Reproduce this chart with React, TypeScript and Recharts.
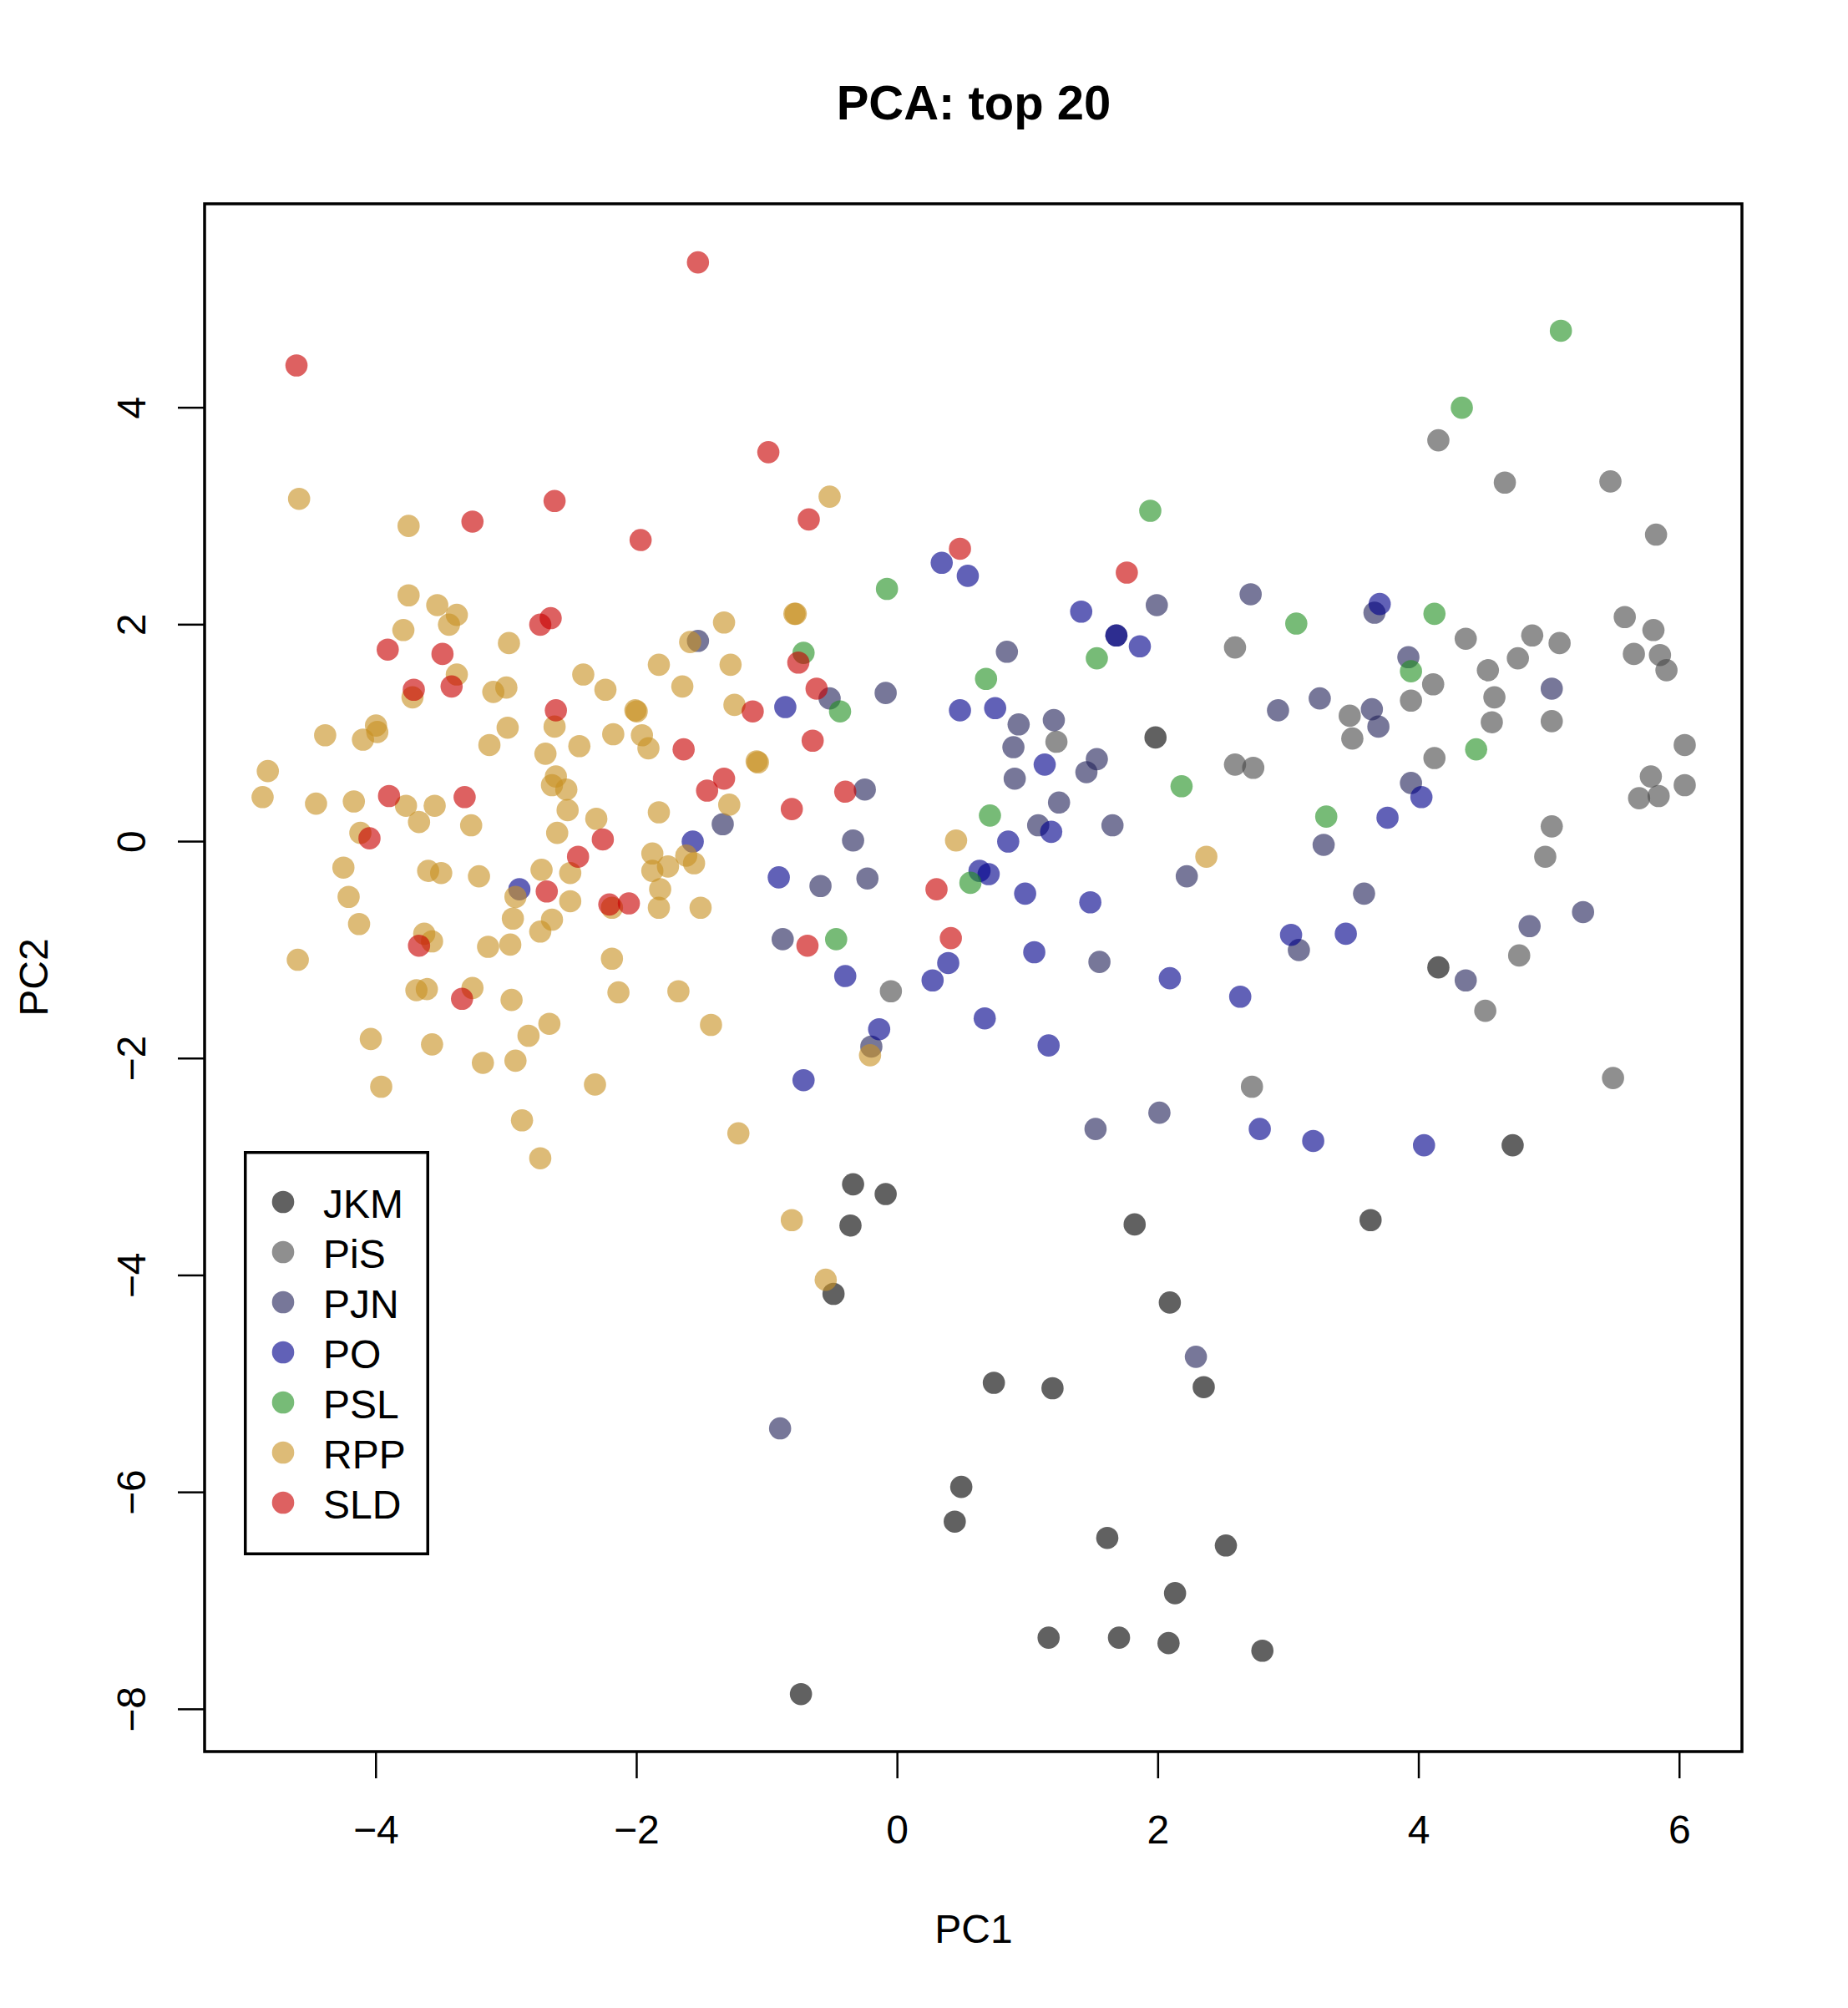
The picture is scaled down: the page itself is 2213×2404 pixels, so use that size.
import { ScatterChart, Scatter, XAxis, YAxis, ReferenceArea, Legend } from 'recharts';

const FONT = '"Liberation Sans", Arial, Helvetica, sans-serif';

const PARTIES = ['JKM', 'PiS', 'PJN', 'PO', 'PSL', 'RPP', 'SLD'];
// base colours, drawn with alpha like R's semi-transparent points
const PARTY_COLORS = ['#000000', '#4a4a4a', '#23235a', '#00008b', '#239123', '#c89123', '#c80000'];
const POINT_ALPHA = 0.62;

const X_TICKS = [-4, -2, 0, 2, 4, 6];
const Y_TICKS = [-8, -6, -4, -2, 0, 2, 4];
const X_DOMAIN: [number, number] = [-5.315, 6.479];
const Y_DOMAIN: [number, number] = [-8.39, 5.88];

// [PC1, PC2] per party
const JKM: [number, number][] = [
  [1.98, 0.96], [4.15, -1.16], [4.72, -2.8], [-0.34, -3.16], [-0.09, -3.25], [-0.36, -3.54],
  [1.82, -3.53], [3.63, -3.49], [-0.49, -4.17], [2.09, -4.25], [2.35, -5.03], [0.74, -4.99],
  [1.19, -5.04], [0.49, -5.95], [0.44, -6.27], [1.61, -6.42], [2.52, -6.49], [2.13, -6.93],
  [1.16, -7.34], [1.7, -7.34], [2.08, -7.39], [2.8, -7.46], [-0.74, -7.86],
];

const PIS: [number, number][] = [
  [4.15, 3.7], [4.66, 3.31], [5.47, 3.32], [5.82, 2.83], [2.59, 1.79], [4.36, 1.87], [4.87, 1.9],
  [5.08, 1.83], [5.58, 2.07], [5.8, 1.95], [5.65, 1.73], [5.85, 1.72], [5.9, 1.58], [4.76, 1.69],
  [4.53, 1.58], [4.11, 1.45], [3.94, 1.3], [4.58, 1.33], [3.47, 1.16], [3.49, 0.95], [5.02, 1.11],
  [4.56, 1.1], [6.04, 0.89], [2.59, 0.71], [2.73, 0.68], [4.12, 0.77], [5.78, 0.6], [6.04, 0.52],
  [5.69, 0.4], [5.84, 0.42], [5.02, 0.14], [4.97, -0.14], [4.77, -1.05], [4.51, -1.56],
  [5.49, -2.18], [2.72, -2.26], [1.22, 0.92], [-0.05, -1.38],
];

const PJN: [number, number][] = [
  [-1.53, 1.85], [-0.52, 1.32], [-0.09, 1.37], [0.84, 1.75], [1.99, 2.18], [0.93, 1.08],
  [1.2, 1.12], [0.89, 0.87], [1.53, 0.76], [1.45, 0.64], [0.9, 0.58], [1.24, 0.36], [1.08, 0.15],
  [1.65, 0.15], [-1.34, 0.16], [-0.25, 0.48], [-0.34, 0.01], [2.22, -0.32], [-0.59, -0.41],
  [-0.23, -0.34], [-0.88, -0.9], [1.55, -1.11], [-0.2, -1.89], [2.01, -2.5], [1.52, -2.65],
  [2.29, -4.75], [-0.9, -5.41], [2.71, 2.28], [3.66, 2.11], [3.92, 1.7], [5.02, 1.41],
  [3.24, 1.32], [2.92, 1.21], [3.64, 1.22], [3.69, 1.06], [3.94, 0.54], [3.27, -0.03],
  [3.58, -0.48], [5.26, -0.65], [4.85, -0.78], [3.08, -1.0], [4.36, -1.28], [1.68, 1.9],
];

const PO: [number, number][] = [
  [0.34, 2.57], [0.54, 2.45], [1.41, 2.12], [1.86, 1.8], [3.7, 2.19], [-0.86, 1.24], [0.48, 1.21],
  [0.75, 1.23], [1.13, 0.71], [1.18, 0.09], [0.85, 0.0], [-1.57, 0.0], [-2.9, -0.44],
  [-0.91, -0.33], [0.63, -0.27], [0.7, -0.3], [0.98, -0.48], [1.48, -0.56], [0.39, -1.12],
  [0.27, -1.28], [-0.4, -1.24], [1.05, -1.02], [2.09, -1.26], [2.63, -1.43], [-0.14, -1.73],
  [0.67, -1.63], [1.16, -1.88], [-0.72, -2.2], [4.02, 0.41], [3.76, 0.22], [3.02, -0.86],
  [3.44, -0.85], [2.78, -2.65], [3.19, -2.76], [4.04, -2.8], [1.68, 1.9],
];

const PSL: [number, number][] = [
  [5.09, 4.71], [4.33, 4.0], [1.94, 3.05], [-0.08, 2.33], [3.06, 2.01], [4.12, 2.1], [1.53, 1.69],
  [0.68, 1.5], [-0.72, 1.74], [-0.44, 1.2], [3.94, 1.57], [4.44, 0.85], [2.18, 0.51], [0.71, 0.24],
  [3.29, 0.23], [0.56, -0.38], [-0.47, -0.9],
];

const RPP: [number, number][] = [
  [-4.59, 3.16], [-3.75, 2.91], [-3.75, 2.27], [-3.53, 2.18], [-3.38, 2.09], [-3.44, 2.0],
  [-3.79, 1.95], [-2.98, 1.83], [-3.38, 1.54], [-3.72, 1.33], [-3.1, 1.38], [-3.0, 1.42],
  [-2.41, 1.54], [-2.24, 1.4], [-1.83, 1.63], [-1.65, 1.43], [-1.59, 1.84], [-1.33, 2.02],
  [-2.01, 1.21], [-2.0, 1.2], [-1.28, 1.63], [-1.25, 1.26], [-0.52, 3.18], [-0.78, 2.1],
  [-0.79, 2.1],
  [-4.39, 0.98], [-4.0, 1.07], [-4.1, 0.94], [-3.99, 1.01], [-2.99, 1.05], [-2.63, 1.06],
  [-3.13, 0.89], [-2.7, 0.81], [-2.44, 0.88], [-2.18, 0.99], [-1.96, 0.98], [-1.91, 0.86],
  [-4.83, 0.65], [-4.87, 0.41], [-4.46, 0.35], [-4.17, 0.37], [-3.77, 0.33], [-3.55, 0.33],
  [-3.67, 0.18], [-3.27, 0.15], [-2.62, 0.6], [-2.65, 0.52], [-2.54, 0.48], [-2.53, 0.29],
  [-2.61, 0.08], [-2.31, 0.21], [-1.83, 0.27], [-1.62, -0.13], [-1.56, -0.2], [-1.88, -0.11],
  [-1.76, -0.23], [-1.88, -0.27], [-1.82, -0.44], [-1.83, -0.61], [-1.51, -0.61], [-2.51, -0.29],
  [-2.51, -0.55], [-2.73, -0.26], [-2.93, -0.51], [-2.95, -0.71], [-2.65, -0.72], [-2.74, -0.83],
  [-2.19, -0.61], [-4.25, -0.24], [-4.21, -0.51], [-4.13, -0.76], [-4.12, 0.08], [-3.6, -0.27],
  [-3.5, -0.29], [-3.21, -0.32], [-3.63, -0.85], [-3.57, -0.92], [-3.14, -0.97], [-2.97, -0.95],
  [-4.6, -1.09], [-2.19, -1.08], [-2.14, -1.39], [-1.68, -1.38], [-1.43, -1.69], [-3.69, -1.37],
  [-3.61, -1.36], [-3.26, -1.35], [-2.96, -1.46], [-4.04, -1.82], [-3.57, -1.87], [-2.67, -1.68],
  [-2.83, -1.79], [-3.18, -2.04], [-2.93, -2.02], [-3.96, -2.26], [-2.32, -2.24], [-2.88, -2.57],
  [-2.74, -2.92],
  [-1.29, 0.34], [-1.08, 0.74], [-1.07, 0.73], [0.45, 0.01], [2.37, -0.14], [-0.21, -1.97],
  [-1.22, -2.69], [-0.81, -3.49], [-0.55, -4.04],
];

const SLD: [number, number][] = [
  [-1.53, 5.34], [-4.61, 4.39], [-0.99, 3.59], [-2.63, 3.14], [-3.26, 2.95], [-0.68, 2.97],
  [-1.97, 2.78], [0.48, 2.7], [1.76, 2.48], [-2.66, 2.06], [-2.74, 2.0], [-3.91, 1.77],
  [-3.49, 1.73], [-0.76, 1.65], [-3.71, 1.4], [-3.42, 1.43], [-0.62, 1.41], [-2.62, 1.21],
  [-1.11, 1.2], [-0.65, 0.93], [-1.64, 0.85], [-1.33, 0.58], [-1.46, 0.47], [-0.4, 0.46],
  [-0.81, 0.3], [-3.9, 0.42], [-3.32, 0.41], [-4.05, 0.03], [-2.26, 0.02], [-2.45, -0.14],
  [-2.69, -0.46], [-2.21, -0.58], [-2.06, -0.57], [0.3, -0.44], [0.41, -0.89], [-0.69, -0.96],
  [-3.67, -0.96], [-3.34, -1.45],
];

const SCORES = [JKM, PIS, PJN, PO, PSL, RPP, SLD];

const series = PARTIES.map((name, i) => ({
  name,
  color: PARTY_COLORS[i],
  points: SCORES[i].map(([x, y]) => ({ x, y })),
}));

const fmt = (v: number) => (v < 0 ? `\u2212${Math.abs(v)}` : `${v}`);

const XTick = ({ x, y, payload }: any) => (
  <text x={x} y={y + 78} textAnchor="middle" fontSize={48} fontFamily={FONT} fill="#000">
    {fmt(payload.value)}
  </text>
);

const YTick = ({ x, y, payload }: any) => (
  <text
    x={x - 39}
    y={y}
    transform={`rotate(-90, ${x - 39}, ${y})`}
    textAnchor="middle"
    fontSize={48}
    fontFamily={FONT}
    fill="#000"
  >
    {fmt(payload.value)}
  </text>
);

const Dot = (color: string) => (props: any) => (
  <circle cx={props.cx} cy={props.cy} r={13.3} fill={color} fillOpacity={POINT_ALPHA} />
);

// boxed legend, like R's legend("bottomleft", ...)
const LegendBox = () => (
  <svg width={222} height={484} style={{ display: 'block' }}>
    <rect x={1.75} y={1.75} width={218.5} height={480.5} fill="#fff" stroke="#000" strokeWidth={3.5} />
    {series.map((s, i) => (
      <g key={s.name}>
        <circle cx={47} cy={61 + i * 60} r={13.3} fill={s.color} fillOpacity={POINT_ALPHA} />
        <text x={95} y={79.5 + i * 60} fontSize={48} fontFamily={FONT} fill="#000">
          {s.name}
        </text>
      </g>
    ))}
  </svg>
);

export default function App() {
  return (
    <div style={{ position: 'absolute', left: 0, top: 0, width: 2213, height: 2404, background: '#fff' }}>
      <ScatterChart
        width={2213}
        height={2404}
        margin={{ top: 244, right: 127, bottom: 157, left: 45 }}
        style={{ fontFamily: FONT }}
      >
        <XAxis
          type="number"
          dataKey="x"
          domain={X_DOMAIN}
          ticks={X_TICKS}
          allowDataOverflow
          height={150}
          axisLine={false}
          tickSize={32}
          tickMargin={0}
          tickLine={{ stroke: '#000', strokeWidth: 2.5 }}
          tick={<XTick />}
          interval={0}
        />
        <YAxis
          type="number"
          dataKey="y"
          domain={Y_DOMAIN}
          ticks={Y_TICKS}
          allowDataOverflow
          width={200}
          axisLine={false}
          tickSize={32}
          tickMargin={0}
          tickLine={{ stroke: '#000', strokeWidth: 2.5 }}
          tick={<YTick />}
          interval={0}
        />
        {series.map((s) => (
          <Scatter
            key={s.name}
            name={s.name}
            data={s.points}
            shape={Dot(s.color)}
            isAnimationActive={false}
          />
        ))}
        <ReferenceArea
          x1={X_DOMAIN[0]}
          x2={X_DOMAIN[1]}
          y1={Y_DOMAIN[0]}
          y2={Y_DOMAIN[1]}
          fill="none"
          fillOpacity={0}
          stroke="#000"
          strokeWidth={3.5}
        />
        <Legend
          layout="vertical"
          align="center"
          verticalAlign="middle"
          content={() => <LegendBox />}
          wrapperStyle={{ left: 292, top: 1378, width: 222, height: 484 }}
        />
        <text x={1166} y={143} textAnchor="middle" fontSize={58} fontWeight="bold" fontFamily={FONT} fill="#000">
          PCA: top 20
        </text>
        <text x={1166} y={2326} textAnchor="middle" fontSize={48} fontFamily={FONT} fill="#000">
          PC1
        </text>
        <text
          x={57}
          y={1170}
          transform="rotate(-90, 57, 1170)"
          textAnchor="middle"
          fontSize={48}
          fontFamily={FONT}
          fill="#000"
        >
          PC2
        </text>
      </ScatterChart>
    </div>
  );
}
